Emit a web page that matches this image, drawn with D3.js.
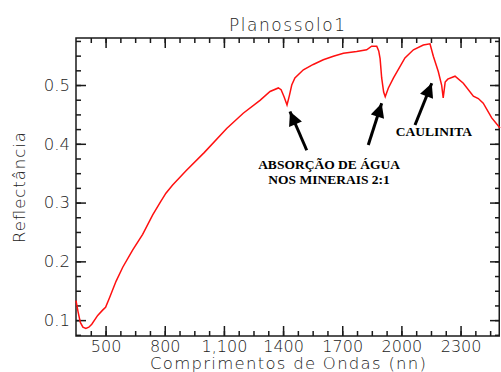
<!DOCTYPE html>
<html>
<head>
<meta charset="utf-8">
<script src="https://cdn.jsdelivr.net/npm/d3@7"></script>
<style>
  body { margin: 0; background: #fff; }
  svg { display: block; }
  .tick text { font-family: "DejaVu Sans", sans-serif; }
</style>
</head>
<body>
<svg id="chart" width="501" height="372"></svg>
<script>
// spectrum: wavelength (nm) and reflectance
const wavelengths = [350, 360, 372, 385, 400, 415, 430, 460, 485, 500, 520, 553, 587, 637, 688, 739, 780, 806, 840, 908,
  1000, 1114, 1198, 1283, 1334, 1376, 1390, 1405, 1420, 1432, 1444, 1460, 1503, 1553, 1604, 1655, 1706, 1773, 1824, 1849,
  1875, 1885, 1892, 1900, 1910, 1918, 1934, 1960, 2018, 2061, 2111, 2145, 2162, 2187, 2204, 2212, 2222, 2235, 2272, 2314,
  2365, 2390, 2415, 2458, 2500]
const reflectance = [0.133, 0.115, 0.096, 0.088, 0.086, 0.088, 0.093, 0.108, 0.117, 0.122, 0.138, 0.166, 0.190, 0.219, 0.246, 0.279, 0.302, 0.316, 0.330, 0.354,
  0.385, 0.426, 0.452, 0.474, 0.489, 0.495, 0.492, 0.480, 0.466, 0.482, 0.500, 0.512, 0.526, 0.535, 0.543, 0.549, 0.554, 0.557, 0.560, 0.566,
  0.566, 0.558, 0.545, 0.512, 0.488, 0.480, 0.495, 0.512, 0.546, 0.560, 0.568, 0.570, 0.549, 0.523, 0.500, 0.478, 0.505, 0.510, 0.515, 0.503,
  0.481, 0.477, 0.469, 0.444, 0.427]

const xMajor = [500, 800, 1100, 1400, 1700, 2000, 2300]
const xLabels = ["500", "800", "1,100", "1400", "1700", "2000", "2300"]
const xMinor = d3.range(425, 2500, 75)
const yMajor = [0.1, 0.2, 0.3, 0.4, 0.5]
const yLabels = ["0.1", "0.2", "0.3", "0.4", "0.5"]
const yMinor = d3.range(0.075, 0.58, 0.025)

// arrows: tail -> tip, in data units
const arrows = [
  { from: [1520, 0.389], to: [1435, 0.455] },
  { from: [1832, 0.398], to: [1900, 0.469] },
  { from: [2069, 0.432], to: [2154, 0.503] }
]
const notes = [
  { text: "ABSORÇÃO DE ÁGUA", at: [1633, 0.357] },
  { text: "NOS MINERAIS 2:1", at: [1633, 0.331] },
  { text: "CAULINITA", at: [2165, 0.413] }
]

const MARGIN = { LEFT: 76, TOP: 38, RIGHT: 500, BOTTOM: 336 }
const svg = d3.select("#chart")

const x = d3.scaleLinear().domain([350, 2500]).range([MARGIN.LEFT, MARGIN.RIGHT])
const y = d3.scaleLinear().domain([0.073, 0.58]).range([MARGIN.BOTTOM, MARGIN.TOP])

const ink = "#1a1a1a"
const textInk = "#222"

function styleAxis(g) {
  g.select(".domain").remove()
  g.selectAll(".tick line").attr("stroke", ink).attr("stroke-width", 1.5)
  g.selectAll(".tick text").attr("fill", textInk).style("font-size", "16px").style("font-weight", "200")
}

// bottom
svg.append("g").attr("transform", `translate(0,${MARGIN.BOTTOM})`)
  .call(d3.axisBottom(x).tickValues(xMinor).tickSize(-5).tickFormat(""))
  .call(styleAxis)
svg.append("g").attr("transform", `translate(0,${MARGIN.BOTTOM})`)
  .call(d3.axisBottom(x).tickValues(xMajor).tickSize(-10).tickPadding(5)
    .tickFormat((d, i) => xLabels[i]))
  .call(styleAxis)
// top
svg.append("g").attr("transform", `translate(0,${MARGIN.TOP})`)
  .call(d3.axisTop(x).tickValues(xMinor).tickSize(-5).tickFormat(""))
  .call(styleAxis)
svg.append("g").attr("transform", `translate(0,${MARGIN.TOP})`)
  .call(d3.axisTop(x).tickValues(xMajor).tickSize(-10).tickFormat(""))
  .call(styleAxis)
// left
svg.append("g").attr("transform", `translate(${MARGIN.LEFT},0)`)
  .call(d3.axisLeft(y).tickValues(yMinor).tickSize(-5).tickFormat(""))
  .call(styleAxis)
svg.append("g").attr("transform", `translate(${MARGIN.LEFT},0)`)
  .call(d3.axisLeft(y).tickValues(yMajor).tickSize(-10).tickPadding(6)
    .tickFormat((d, i) => yLabels[i]))
  .call(styleAxis)
svg.selectAll("g").filter(function () { return this.getAttribute("transform") === `translate(${MARGIN.LEFT},0)` })
  .selectAll(".tick text").style("font-size", "16.5px")
// right
svg.append("g").attr("transform", `translate(${MARGIN.RIGHT},0)`)
  .call(d3.axisRight(y).tickValues(yMinor).tickSize(-5).tickFormat(""))
  .call(styleAxis)
svg.append("g").attr("transform", `translate(${MARGIN.RIGHT},0)`)
  .call(d3.axisRight(y).tickValues(yMajor).tickSize(-10).tickFormat(""))
  .call(styleAxis)

svg.append("rect")
  .attr("x", MARGIN.LEFT).attr("y", MARGIN.TOP)
  .attr("width", MARGIN.RIGHT - MARGIN.LEFT - 0.75).attr("height", MARGIN.BOTTOM - MARGIN.TOP)
  .attr("fill", "none").attr("stroke", ink).attr("stroke-width", 1.5)

const spectrum = wavelengths.map((w, i) => [w, reflectance[i]])
const line = d3.line().x(d => x(d[0])).y(d => y(d[1]))

svg.append("path")
  .datum(spectrum)
  .attr("fill", "none")
  .attr("stroke", "#ff1010")
  .attr("stroke-width", 1.5)
  .attr("d", line)

// titles
svg.append("text")
  .attr("x", 287).attr("y", 31)
  .attr("text-anchor", "middle")
  .attr("textLength", 116)
  .style("font-family", "DejaVu Sans").style("font-size", "17px").style("font-weight", "200")
  .attr("fill", textInk)
  .text("Planossolo1")

svg.append("text")
  .attr("x", 288).attr("y", 368.5)
  .attr("text-anchor", "middle")
  .attr("textLength", 276)
  .style("font-family", "DejaVu Sans").style("font-size", "16.5px").style("font-weight", "200")
  .attr("fill", textInk)
  .text("Comprimentos de Ondas (nn)")

svg.append("text")
  .attr("transform", "translate(25,187.5) rotate(-90)")
  .attr("text-anchor", "middle")
  .attr("textLength", 111)
  .style("font-family", "DejaVu Sans").style("font-size", "16.5px").style("font-weight", "200")
  .attr("fill", textInk)
  .text("Reflectância")

// annotations
const defs = svg.append("defs")
defs.append("marker")
  .attr("id", "head")
  .attr("viewBox", "0 0 10 10")
  .attr("refX", 10).attr("refY", 5)
  .attr("markerUnits", "userSpaceOnUse")
  .attr("markerWidth", 16).attr("markerHeight", 14)
  .attr("orient", "auto")
  .append("path").attr("d", "M0,0L10,5L0,10Z").attr("fill", "#000")

svg.append("g").selectAll("line")
  .data(arrows)
  .join("line")
  .attr("x1", d => x(d.from[0])).attr("y1", d => y(d.from[1]))
  .attr("x2", d => x(d.to[0])).attr("y2", d => y(d.to[1]))
  .attr("stroke", "#000").attr("stroke-width", 3)
  .attr("marker-end", "url(#head)")

svg.append("g").selectAll("text")
  .data(notes)
  .join("text")
  .attr("x", d => x(d.at[0])).attr("y", d => y(d.at[1]))
  .attr("text-anchor", "middle")
  .style("font-family", "Liberation Serif, serif").style("font-weight", "bold").style("font-size", "13.5px")
  .text(d => d.text)
</script>
</body>
</html>
